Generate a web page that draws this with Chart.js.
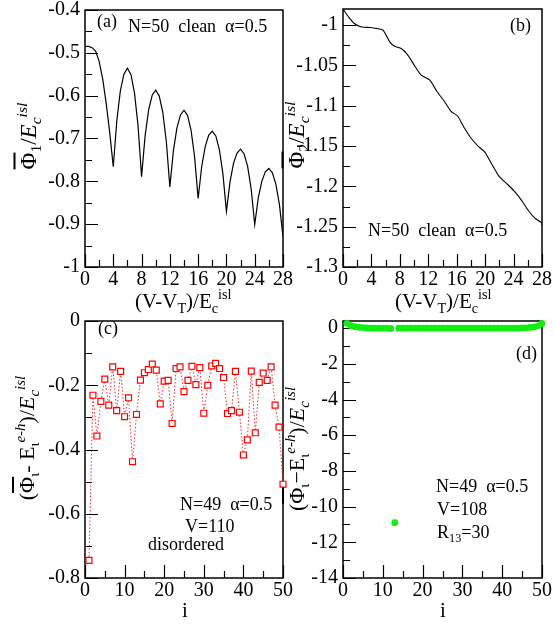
<!DOCTYPE html>
<html>
<head>
<meta charset="utf-8">
<script src="https://cdn.jsdelivr.net/npm/chart.js@4.4.0/dist/chart.umd.min.js"></script>
<style>
  body { margin: 0; background: #fff; }
  #wrap { position: relative; width: 554px; height: 625px; overflow: hidden;
          font-family: 'Liberation Serif', 'Times New Roman', serif; color: #000; }
  canvas { position: absolute; left: 0; top: 0; }
  .t { position: absolute; white-space: pre; line-height: 1; }
  .sb { font-size: 0.68em; position: relative; top: 0.32em; }
  .sp { font-size: 0.68em; position: relative; top: -0.6em; }
  .ol { text-decoration: overline; }
  .rot { transform: translate(-50%, -50%) rotate(-90deg); }
</style>
</head>
<body>
<div id="wrap">
  <canvas id="pa" width="554" height="625"></canvas>
  <canvas id="pb" width="554" height="625"></canvas>
  <canvas id="pc" width="554" height="625"></canvas>
  <canvas id="pd" width="554" height="625"></canvas>

  <!-- panel labels and notes -->
  <div class="t" style="left:97px;top:12px;font-size:18px">(a)</div>
  <div class="t" style="left:128px;top:17px;font-size:18px">N=50  clean  α=0.5</div>
  <div class="t" style="left:510px;top:16px;font-size:18px">(b)</div>
  <div class="t" style="left:368px;top:221px;font-size:18px">N=50  clean  α=0.5</div>
  <div class="t" style="left:98px;top:319px;font-size:18px">(c)</div>
  <div class="t" style="left:180px;top:495px;font-size:18px">N=49  α=0.5</div>
  <div class="t" style="left:185px;top:517px;font-size:18px">V=110</div>
  <div class="t" style="left:148px;top:535px;font-size:18px">disordered</div>
  <div class="t" style="left:516px;top:344px;font-size:18px">(d)</div>
  <div class="t" style="left:436px;top:477px;font-size:18px">N=49  α=0.5</div>
  <div class="t" style="left:437px;top:500px;font-size:18px">V=108</div>
  <div class="t" style="left:437px;top:523px;font-size:18px">R<span class="sb">13</span>=30</div>

  <!-- axis titles -->
  <div class="t" style="left:135px;top:291px;font-size:21px">(V-V<span class="sb">T</span>)/E<span class="sb">c</span><span class="sp">isl</span></div>
  <div class="t" style="left:395px;top:291px;font-size:21px">(V-V<span class="sb">T</span>)/E<span class="sb">c</span><span class="sp">isl</span></div>
  <div class="t" style="left:182px;top:600px;font-size:21px">i</div>
  <div class="t" style="left:440px;top:600px;font-size:21px">i</div>

  <div class="t rot" style="left:28px;top:136px;font-size:23px"><span class="ol">Φ</span><span class="sb">1</span>/<i>E<span class="sb">c</span><span class="sp">isl</span></i></div>
  <div class="t rot" style="left:296px;top:135px;font-size:23px"><span class="ol">Φ</span><span class="sb">2</span>/<i>E<span class="sb">c</span><span class="sp">isl</span></i></div>
  <div class="t rot" style="left:27px;top:438px;font-size:22px">(<span class="ol">Φ</span><span class="sb">ι</span>- E<span class="sb">ι</span><span class="sp"><i>e-h</i></span>)/<i>E<span class="sb">c</span><span class="sp">isl</span></i></div>
  <div class="t rot" style="left:297px;top:449px;font-size:22px">(<span class="ol">Φ</span><span class="sb">ι</span>−E<span class="sb">ι</span><span class="sp"><i>e-h</i></span>)/<i>E<span class="sb">c</span><span class="sp">isl</span></i></div>
</div>

<script>
const W = 554, H = 625;
const FONT = 'Liberation Serif';

// ---- panel (a): Phi_1 vs (V-V_T)/E_c, clean N=50
const aX = [0, 0.5, 1, 1.5, 2, 2.5, 3, 3.5, 4, 4.5, 5, 5.5, 6, 6.5, 7, 7.5, 8, 8.5, 9, 9.5,
            10, 10.5, 11, 11.5, 12, 12.5, 13, 13.5, 14, 14.5, 15, 15.5, 16, 16.5, 17, 17.5, 18, 18.5, 19, 19.5,
            20, 20.5, 21, 21.5, 22, 22.5, 23, 23.5, 24, 24.5, 25, 25.5, 26, 26.5, 27, 27.5, 28];
const aY = [-0.485, -0.485, -0.488, -0.496, -0.520, -0.561, -0.618, -0.687, -0.766, -0.658,
            -0.589, -0.550, -0.536, -0.551, -0.594, -0.670, -0.789, -0.694, -0.633, -0.599,
            -0.587, -0.601, -0.639, -0.707, -0.813, -0.729, -0.675, -0.645, -0.634, -0.646,
            -0.681, -0.743, -0.840, -0.766, -0.719, -0.692, -0.683, -0.694, -0.726, -0.782,
            -0.870, -0.802, -0.758, -0.734, -0.725, -0.736, -0.765, -0.818, -0.901, -0.839,
            -0.800, -0.778, -0.770, -0.780, -0.807, -0.855, -0.930];

// ---- panel (b): Phi_2 vs (V-V_T)/E_c
const bX = [0, 0.8, 1.6, 2.5, 3.7, 4.65, 5.6, 6.1, 6.6, 7.2, 8.2, 9.1, 10.05, 11.0, 12.2, 13.2,
            14.3, 15.2, 16.15, 17.1, 18.0, 19.0, 19.9, 20.85, 22.0, 23.2, 24.1, 25.1, 26.0, 26.95, 27.9, 28];
const bY = [-0.980, -0.990, -0.998, -1.002, -1.003, -1.004, -1.006, -1.013, -1.021, -1.026, -1.029,
            -1.037, -1.050, -1.062, -1.068, -1.082, -1.095, -1.107, -1.113, -1.128, -1.140, -1.150,
            -1.157, -1.171, -1.188, -1.198, -1.206, -1.217, -1.229, -1.239, -1.245, -1.248];

// ---- panel (c): disordered, V=110
const cI = [1, 2, 3, 4, 5, 6, 7, 8, 9, 10, 11, 12, 13, 14, 15, 16, 17, 18, 19, 20, 21, 22, 23, 24, 25,
            26, 27, 28, 29, 30, 31, 32, 33, 34, 35, 36, 37, 38, 39, 40, 41, 42, 43, 44, 45, 46, 47, 48, 49, 50];
const cY = [-0.745, -0.231, -0.358, -0.250, -0.181, -0.262, -0.143, -0.279, -0.157, -0.298,
            -0.239, -0.438, -0.291, -0.184, -0.161, -0.151, -0.134, -0.153, -0.258, -0.187,
            -0.185, -0.319, -0.148, -0.143, -0.220, -0.185, -0.141, -0.198, -0.145, -0.287,
            -0.200, -0.140, -0.132, -0.148, -0.176, -0.288, -0.279, -0.157, -0.284, -0.417,
            -0.370, -0.156, -0.348, -0.191, -0.162, -0.185, -0.143, -0.262, -0.330, -0.508];

// ---- panel (d): V=108, R_13=30
const dI = [1, 2, 3, 4, 5, 6, 7, 8, 9, 10, 11, 12, 13, 14, 15, 16, 17, 18, 19, 20, 21, 22, 23, 24, 25,
            26, 27, 28, 29, 30, 31, 32, 33, 34, 35, 36, 37, 38, 39, 40, 41, 42, 43, 44, 45, 46, 47, 48, 49, 50];
const dY = [0.27, 0.14, 0.08, 0.05, 0.03, 0.01, 0, 0, 0, 0, 0, -0.02, -10.9, 0, 0, 0, 0, 0, 0, 0,
            0, 0, 0, 0, 0, 0, 0, 0, 0, 0, 0, 0, 0, 0, 0, 0, 0, 0, 0, 0,
            0, 0, 0, 0, 0.01, 0.02, 0.04, 0.07, 0.13, 0.26];

// tick values
const vXMajor = [0, 4, 8, 12, 16, 20, 24, 28];
const vXMinor = [2, 6, 10, 14, 18, 22, 26];
const iXMajor = [0, 10, 20, 30, 40, 50];
const iXMinor = [5, 15, 25, 35, 45];
const aYMajor = [-0.4, -0.5, -0.6, -0.7, -0.8, -0.9, -1];
const aYMinor = [-0.45, -0.55, -0.65, -0.75, -0.85, -0.95];
const bYMajor = [-1, -1.05, -1.1, -1.15, -1.2, -1.25, -1.3];
const bYMinor = [-1.025, -1.075, -1.125, -1.175, -1.225, -1.275];
const cYMajor = [0, -0.2, -0.4, -0.6, -0.8];
const cYMinor = [-0.1, -0.3, -0.5, -0.7];
const dYMajor = [0, -2, -4, -6, -8, -10, -12, -14];
const dYMinor = [-1, -3, -5, -7, -9, -11, -13];

const pts = (xs, ys) => xs.map((x, k) => ({ x: x, y: ys[k] }));

// box + inward ticks, like the original xmgrace frames
const framePlugin = {
  id: 'frame',
  beforeDatasetsDraw(chart, args, opts) {
    const { ctx, chartArea: a, scales } = chart;
    ctx.save();
    ctx.strokeStyle = '#000';
    ctx.lineWidth = 1.5;
    ctx.strokeRect(a.left, a.top, a.right - a.left, a.bottom - a.top);
    ctx.lineWidth = 1.2;
    ctx.beginPath();
    const xt = (vals, len) => vals.forEach(v => {
      const x = Math.round(scales.x.getPixelForValue(v)) + 0.5;
      ctx.moveTo(x, a.bottom); ctx.lineTo(x, a.bottom - len);
    });
    const yt = (vals, len) => vals.forEach(v => {
      const y = Math.round(scales.y.getPixelForValue(v)) + 0.5;
      ctx.moveTo(a.left, y); ctx.lineTo(a.left + len, y);
    });
    xt(opts.xMajor, 13); xt(opts.xMinor, 7);
    yt(opts.yMajor, 13); yt(opts.yMinor, 7);
    ctx.stroke();
    ctx.restore();
  }
};

function axis(dir, range, major) {
  return {
    type: 'linear', min: range[0], max: range[1],
    grid: { display: false, drawTicks: false },
    border: { display: false },
    ticks: {
      color: '#000', font: { family: FONT, size: 20 },
      padding: dir === 'x' ? 1 : 5, autoSkip: false, maxRotation: 0,
      callback: v => String(Math.round(v * 1000) / 1000)
    },
    afterBuildTicks: s => { s.ticks = major.map(v => ({ value: v })); },
    afterFit: s => {
      if (dir === 'x') s.height = 30; else s.width = 60;
      s.paddingTop = 0; s.paddingBottom = 0; s.paddingLeft = 0; s.paddingRight = 0;
    }
  };
}

function panel(id, box, xRange, yRange, t, datasets) {
  return new Chart(document.getElementById(id), {
    type: 'line',
    data: { datasets: datasets },
    options: {
      responsive: false,
      animation: false,
      events: [],
      layout: { padding: { left: box[0] - 60, top: box[1], right: W - box[2], bottom: H - box[3] - 30 } },
      plugins: { legend: { display: false }, tooltip: { enabled: false }, frame: t },
      scales: { x: axis('x', xRange, t.xMajor), y: axis('y', yRange, t.yMajor) }
    },
    plugins: [framePlugin]
  });
}

panel('pa', [85, 10, 283, 267], [0, 28], [-1, -0.4],
  { xMajor: vXMajor, xMinor: vXMinor, yMajor: aYMajor, yMinor: aYMinor },
  [{ data: pts(aX, aY), borderColor: '#000', borderWidth: 1.2, pointRadius: 0, tension: 0, fill: false }]);

panel('pb', [343, 9, 542, 267], [0, 28], [-1.3, -0.98],
  { xMajor: vXMajor, xMinor: vXMinor, yMajor: bYMajor, yMinor: bYMinor },
  [{ data: pts(bX, bY), borderColor: '#000', borderWidth: 1.1, pointRadius: 0, tension: 0.2, fill: false }]);

panel('pc', [85, 321, 283, 578], [0, 50], [-0.8, 0],
  { xMajor: iXMajor, xMinor: iXMinor, yMajor: cYMajor, yMinor: cYMinor },
  [{ data: pts(cI, cY), borderColor: 'rgba(255,0,0,0.85)', borderWidth: 1, borderDash: [1.5, 2],
     pointStyle: 'rect', pointRadius: 4.2, pointBorderColor: '#ff0000', pointBackgroundColor: '#fff',
     pointBorderWidth: 1.2, tension: 0, clip: false }]);

panel('pd', [343, 321, 542, 578], [0, 50], [-14, 0.4],
  { xMajor: iXMajor, xMinor: iXMinor, yMajor: dYMajor, yMinor: dYMinor },
  [{ data: pts(dI, dY), showLine: false, pointRadius: 3.4, pointBackgroundColor: '#11ee11',
     pointBorderWidth: 0, clip: false }]);
</script>
</body>
</html>
